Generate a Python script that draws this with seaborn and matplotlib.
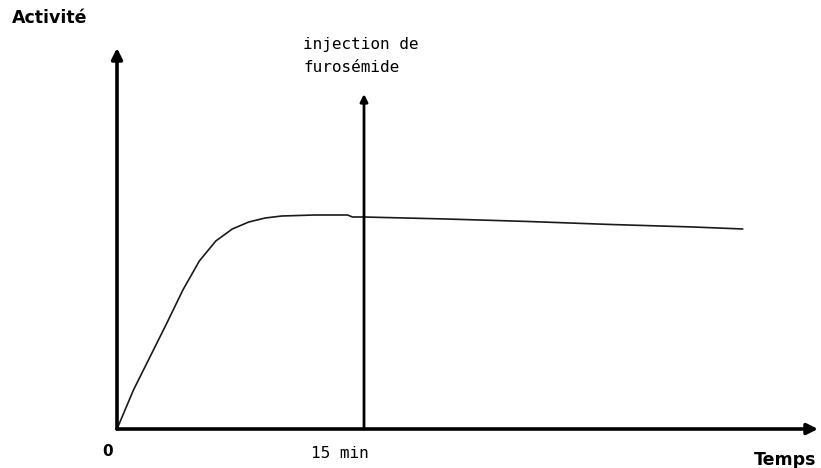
import matplotlib
matplotlib.use("Agg")
import matplotlib.pyplot as plt
import seaborn as sns
import pandas as pd

# curve (time in min, activity in arbitrary units)
temps = [0, 1, 2, 3, 4, 5, 6, 7, 8, 9, 10, 12, 14, 14.3, 15, 20, 25, 30, 35, 38]
activite = [0, 39, 72, 105, 139, 168, 188, 200, 207, 211, 213, 214, 214, 212, 212,
            210, 207.5, 204.5, 202, 200]

injection_t = 15
x_max = 42.57
y_max = 381
injection_top = 335

sns.set_style("white")
plt.rcParams['font.family'] = ['DejaVu Sans']
plt.rcParams['text.color'] = 'black'

fig = plt.figure(figsize=(8.21, 4.68), dpi=100)
ax = fig.add_axes([117 / 821, 39 / 468, (818 - 117) / 821, (429 - 48) / 468])
ax.set_xlim(0, x_max)
ax.set_ylim(0, y_max)
ax.axis("off")

df = pd.DataFrame({"temps": temps, "activite": activite})
sns.lineplot(data=df, x="temps", y="activite", ax=ax, color="#1a1a1a", linewidth=1.2)

arrow = dict(arrowstyle="-|>", color="black", lw=2.6, mutation_scale=16, shrinkA=0, shrinkB=0)
ax.annotate("", xy=(0, y_max), xytext=(0, 0), arrowprops=arrow, annotation_clip=False)
ax.annotate("", xy=(x_max, 0), xytext=(0, 0), arrowprops=arrow, annotation_clip=False)
ax.annotate("", xy=(injection_t, injection_top), xytext=(injection_t, 0),
            arrowprops=dict(arrow, lw=2.0, mutation_scale=11), annotation_clip=False)

# text
fig.text(12 / 821, 1 - 18 / 468, "Activité", fontsize=12.5, fontweight="bold", va="center", ha="left")
fig.text(303 / 821, 1 - 45 / 468, "injection de", fontsize=11.5, family="DejaVu Sans Mono",
         va="center", ha="left")
fig.text(303 / 821, 1 - 68 / 468, "furosémide", fontsize=11.5, family="DejaVu Sans Mono",
         va="center", ha="left")
fig.text(108 / 821, 1 - 452 / 468, "0", fontsize=11, fontweight="bold", va="center", ha="center")
fig.text(340 / 821, 1 - 453 / 468, "15 min", fontsize=11.5, family="DejaVu Sans Mono",
         va="center", ha="center")
fig.text(785 / 821, 1 - 460 / 468, "Temps", fontsize=12.5, fontweight="bold", va="center", ha="center")

fig.savefig("out.png", dpi=100)
